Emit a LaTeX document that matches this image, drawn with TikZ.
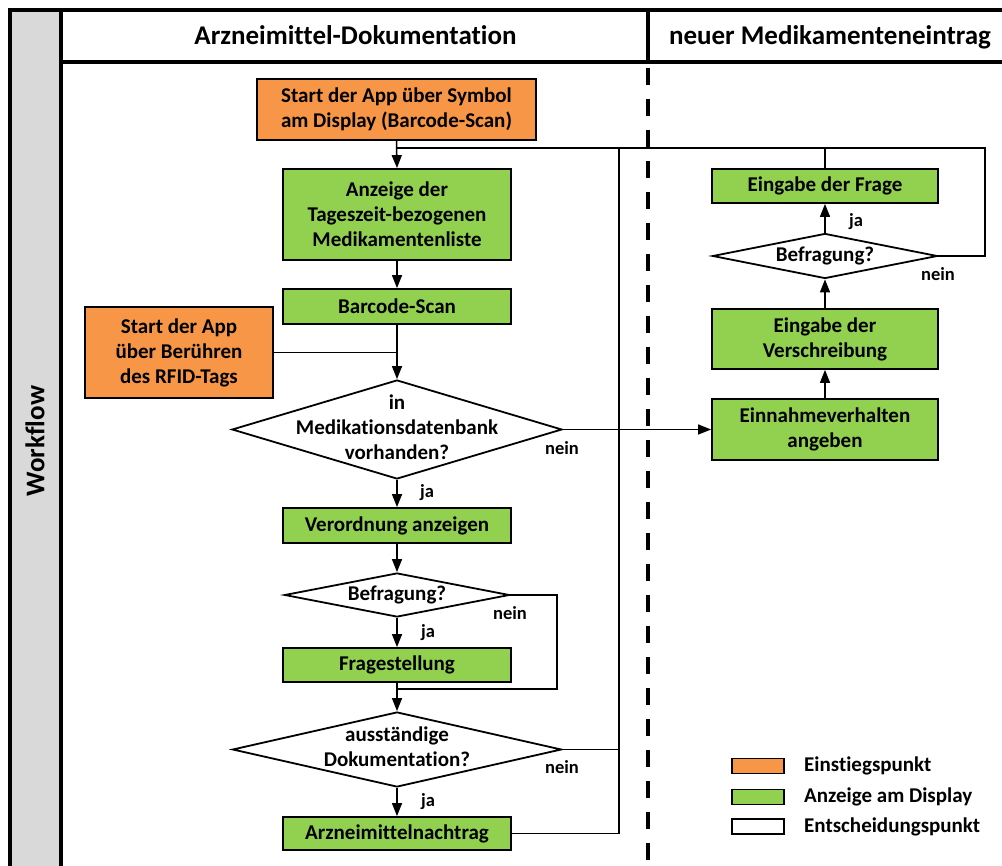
\documentclass[tikz,border=0pt]{standalone}
\usepackage{fontspec}
\setmainfont{Carlito}[Ligatures={NoCommon,NoDiscretionary}]
\usetikzlibrary{arrows.meta,shapes.geometric}
\definecolor{orangeF}{HTML}{F79646}
\definecolor{greenF}{HTML}{92D050}
\definecolor{grayF}{HTML}{D9D9D9}
\newcommand\boxfont{\fontsize{21}{25}\selectfont\bfseries}
\newcommand\hdrfont{\fontsize{27}{31}\selectfont\bfseries}
\newcommand\lblfont{\fontsize{18.5}{21}\selectfont\bfseries}
\newcommand\legfont{\fontsize{21}{25}\selectfont\bfseries}
\begin{document}
\begin{tikzpicture}[x=1pt,y=-1pt,
 box/.style={draw=black, line width=1.8pt, inner sep=0pt, align=center, font=\boxfont},
 entry/.style={box, fill=orangeF},
 disp/.style={box, fill=greenF},
 decision/.style={draw=black, line width=1.8pt, fill=white, diamond, inner sep=0pt},
 dtext/.style={align=center, font=\boxfont, inner sep=0pt},
 conn/.style={line width=1.5pt, draw=black},
 arr/.style={conn, -{Triangle[length=13pt,width=10pt]}},
 lbl/.style={font=\lblfont, inner sep=0pt},
 hdr/.style={font=\hdrfont, inner sep=0pt},
 frameline/.style={line width=4pt, draw=black},
 legbox/.style={draw=black, line width=1.8pt, minimum width=52pt, minimum height=15pt, inner sep=0pt},
 legtext/.style={font=\legfont, inner sep=0pt, anchor=west},
]
\fill[white] (0,0) rectangle (1002,866);
\useasboundingbox (0,0) rectangle (1002,866);
% swimlane frame
\fill[grayF] (10,10) rectangle (60,866);
\draw[frameline] (10,866) -- (10,10) -- (1002,10);
\draw[frameline] (60.5,10) -- (60.5,866);
\draw[frameline] (60.5,62) -- (1002,62);
\draw[frameline] (648,10) -- (648,62);
\draw[line width=4pt, dash pattern=on 17pt off 14pt] (648,68) -- (648,866);
\node[hdr, anchor=base] (h1) at (355.5,45) {Arzneimittel-Dokumentation};
\node[hdr, anchor=base] (h2) at (830,45) {neuer Medikamenteneintrag};
\node[hdr, rotate=90] (wf) at (35,441) {Workflow};

% left lane
\node[entry, minimum width=279pt, minimum height=61pt] (s1) at (396.5,109.5) {Start der App über Symbol\\am Display (Barcode-Scan)};
\node[disp, minimum width=228pt, minimum height=91pt] (a1) at (397,214.5) {Anzeige der\\Tageszeit-bezogenen\\Medikamentenliste};
\node[disp, minimum width=228pt, minimum height=35pt] (b1) at (397,306.5) {Barcode-Scan};
\node[entry, minimum width=188pt, minimum height=91pt] (s2) at (179,352.5) {Start der App\\über Berühren\\des RFID-Tags};
\node[decision, minimum width=330pt, minimum height=99pt] (d1) at (397,429.5) {};
\node[dtext] (d1t) at (397,427) {in\\Medikationsdatenbank\\vorhanden?};
\node[disp, minimum width=228pt, minimum height=35pt] (v1) at (397,525.5) {Verordnung anzeigen};
\node[decision, minimum width=225pt, minimum height=44pt] (d2) at (397,595) {};
\node[dtext] (d2t) at (397,595) {Befragung?};
\node[disp, minimum width=228pt, minimum height=34pt] (f1) at (397,665) {Fragestellung};
\node[decision, minimum width=329pt, minimum height=75pt] (d3) at (397,749.5) {};
\node[dtext] (d3t) at (397,747) {ausständige\\Dokumentation?};
\node[disp, minimum width=228pt, minimum height=33pt] (n1) at (397,833.5) {Arzneimittelnachtrag};

% right lane
\node[disp, minimum width=226pt, minimum height=34pt] (q1) at (825,186) {Eingabe der Frage};
\node[decision, minimum width=225pt, minimum height=45pt] (d4) at (825,256) {};
\node[dtext] (d4t) at (825,256) {Befragung?};
\node[disp, minimum width=226pt, minimum height=60pt] (vs) at (825,339) {Eingabe der\\Verschreibung};
\node[disp, minimum width=226pt, minimum height=61pt] (e1) at (825,429.5) {Einnahmeverhalten\\angeben};

\coordinate (c1) at (557,689);
\coordinate (r1) at (619,148);
\coordinate (rr) at (985,148);

% connectors
\draw[conn] (n1.east) -| (r1) -- (r1 -| a1.north);
\draw[conn] (d3.east) -- (d3.east -| r1);
\draw[conn] (d4.east) -| (rr) -- (r1);
\draw[conn] (q1.north) -- (q1.north |- rr);
\draw[arr] (s1.south) -- (a1.north);
\draw[arr] (a1.south) -- (b1.north);
\draw[conn] (s2.east) -- (s2.east -| b1.south);
\draw[arr] (b1.south) -- (d1.north);
\draw[arr] (d1.south) -- (v1.north);
\draw[arr] (d1.east) -- (e1.west);
\draw[arr] (v1.south) -- (d2.north);
\draw[arr] (d2.south) -- (f1.north);
\draw[conn] (d2.east) -| (c1) -- (c1 -| f1.south);
\draw[arr] (f1.south) -- (d3.north);
\draw[arr] (d3.south) -- (n1.north);
\draw[arr] (e1.north) -- (vs.south);
\draw[arr] (vs.north) -- (d4.south);
\draw[arr] (d4.north) -- (q1.south);

% labels
\node[lbl] (ja1) at (427,493) {ja};
\node[lbl] (nein1) at (562,448) {nein};
\node[lbl] (nein2) at (510,613) {nein};
\node[lbl] (ja2) at (428,633) {ja};
\node[lbl] (nein3) at (562,767) {nein};
\node[lbl] (ja3) at (428,802) {ja};
\node[lbl] (ja4) at (856,222) {ja};
\node[lbl] (nein4) at (938,274) {nein};

% legend
\node[legbox, fill=orangeF] (lg1) at (758,766) {};
\node[legbox, fill=greenF] (lg2) at (758,797) {};
\node[legbox, fill=white] (lg3) at (758,826.5) {};
\node[legtext] (lt1) at (804,766) {Einstiegspunkt};
\node[legtext] (lt2) at (804,797) {Anzeige am Display};
\node[legtext] (lt3) at (804,826.5) {Entscheidungspunkt};
\end{tikzpicture}
\end{document}
